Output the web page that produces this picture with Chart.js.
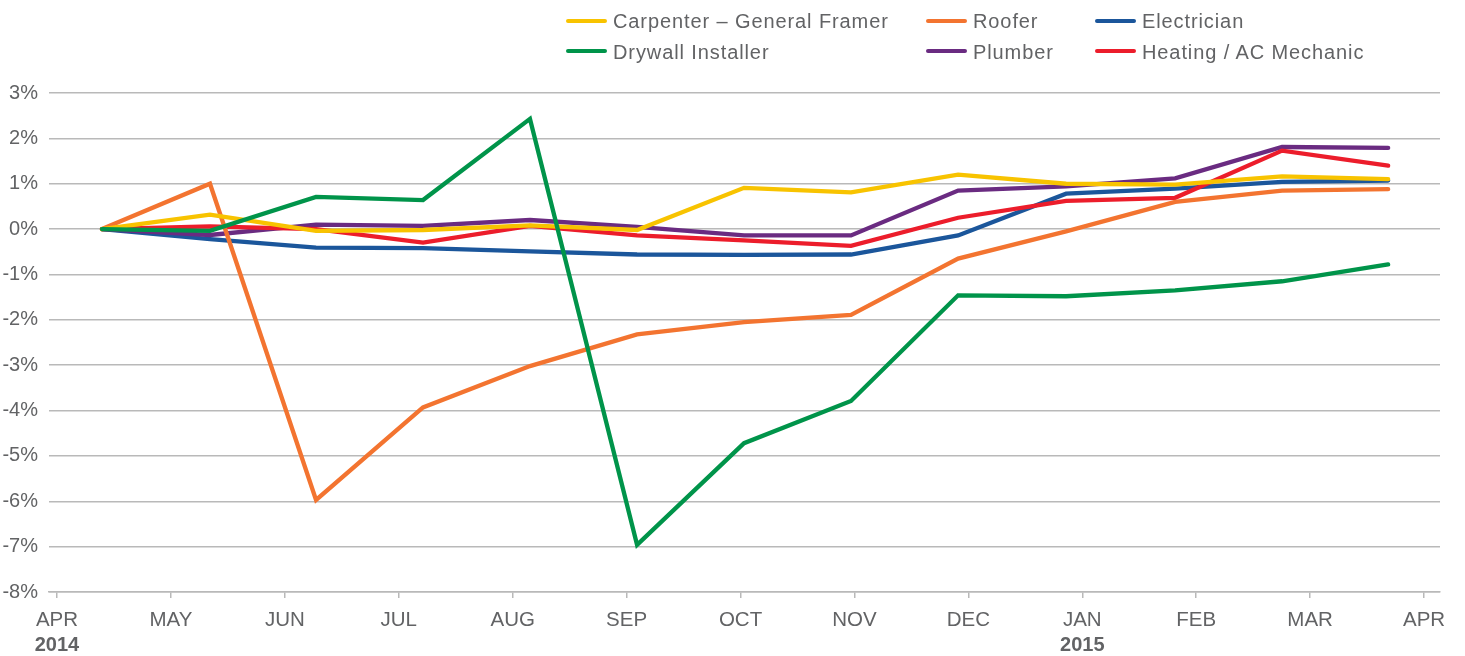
<!DOCTYPE html>
<html>
<head>
<meta charset="utf-8">
<script src="https://cdn.jsdelivr.net/npm/chart.js@4"></script>
<style>
  html, body { margin: 0; padding: 0; background: #fff; }
  #wrap { position: relative; width: 1465px; height: 656px; overflow: hidden; }
  canvas { position: absolute; left: 0; top: 0; }
  .lg-line { position: absolute; width: 41px; height: 4px; border-radius: 2px; }
  .lg-text { position: absolute; font-family: "Liberation Sans", Arial, sans-serif; font-size: 20px;
             line-height: 20px; letter-spacing: 0.9px; color: #626365; white-space: nowrap; }
</style>
</head>
<body>
<div id="wrap">
  <canvas id="c" width="1465" height="656"></canvas>
  <div id="legend"></div>
</div>
<script>
// ---- data ----
const monthLabels = ['APR','MAY','JUN','JUL','AUG','SEP','OCT','NOV','DEC','JAN','FEB','MAR','APR'];
const yearLabels = {0: '2014', 9: '2015'};
// sample dates, in months since the start of April 2014
const sampleMonths = [0.395, 1.343, 2.274, 3.213, 4.152, 5.092, 6.031, 6.97, 7.91, 8.858, 9.815, 10.754, 11.685];

const seriesNames = ['Carpenter – General Framer', 'Roofer', 'Electrician', 'Drywall Installer', 'Plumber', 'Heating / AC Mechanic'];
const carpenter   = [0, 0.32, -0.04, -0.02, 0.08, -0.02, 0.91, 0.81, 1.2, 1.0, 0.98, 1.16, 1.1];
const roofer      = [0, 1.0, -5.97, -3.93, -3.02, -2.32, -2.05, -1.89, -0.65, -0.05, 0.6, 0.85, 0.88];
const electrician = [0, -0.22, -0.41, -0.42, -0.49, -0.56, -0.57, -0.56, -0.14, 0.78, 0.89, 1.04, 1.07];
const drywall     = [0, -0.04, 0.71, 0.64, 2.43, -6.96, -4.72, -3.79, -1.46, -1.48, -1.35, -1.15, -0.78];
const plumber     = [0, -0.13, 0.1, 0.07, 0.2, 0.05, -0.14, -0.14, 0.85, 0.94, 1.12, 1.81, 1.79];
const heating     = [0, 0.06, 0.0, -0.3, 0.07, -0.14, -0.25, -0.37, 0.25, 0.62, 0.69, 1.73, 1.4];

const yTicks = [3, 2, 1, 0, -1, -2, -3, -4, -5, -6, -7, -8];

// ---- styles ----
const colors = {
  carpenter: '#F8C300', roofer: '#F37430', electrician: '#1B569B',
  drywall: '#00944A', plumber: '#6A2B81', heating: '#EC1D2B'
};
const FONT = '"Liberation Sans", Arial, sans-serif';
const TEXT = '#626365';
const GRID = '#b9b9b9';

function pts(vals) { return vals.map((v, i) => ({x: sampleMonths[i], y: v})); }
function ds(label, vals, color, order) {
  return { label, data: pts(vals), borderColor: color, backgroundColor: color, borderWidth: 4.3,
           pointRadius: 0, pointHoverRadius: 0, tension: 0, borderCapStyle: 'round',
           borderJoinStyle: 'miter', fill: false, order };
}

// ---- HTML legend ----
const legendItems = [
  {name: seriesNames[0], color: colors.carpenter,   x: 566,  row: 0},
  {name: seriesNames[1], color: colors.roofer,      x: 926,  row: 0},
  {name: seriesNames[2], color: colors.electrician, x: 1095, row: 0},
  {name: seriesNames[3], color: colors.drywall,     x: 566,  row: 1},
  {name: seriesNames[4], color: colors.plumber,     x: 926,  row: 1},
  {name: seriesNames[5], color: colors.heating,     x: 1095, row: 1}
];
const legendEl = document.getElementById('legend');
legendItems.forEach(it => {
  const lineY = it.row === 0 ? 18.5 : 49.3;
  const textY = it.row === 0 ? 11 : 41.6;
  const l = document.createElement('div');
  l.className = 'lg-line';
  l.style.left = it.x + 'px'; l.style.top = lineY + 'px'; l.style.background = it.color;
  const t = document.createElement('div');
  t.className = 'lg-text';
  t.style.left = (it.x + 47) + 'px'; t.style.top = textY + 'px';
  t.textContent = it.name;
  legendEl.appendChild(l); legendEl.appendChild(t);
});

// ---- year labels plugin ----
const yearPlugin = {
  id: 'yearLabels',
  afterDraw(chart) {
    const ctx = chart.ctx, xs = chart.scales.x;
    ctx.save();
    ctx.font = 'bold 20px ' + FONT;
    ctx.fillStyle = TEXT;
    ctx.textAlign = 'center';
    ctx.textBaseline = 'middle';
    Object.keys(yearLabels).forEach(k => {
      ctx.fillText(yearLabels[k], xs.getPixelForValue(Number(k)), 645.5);
    });
    ctx.restore();
  }
};

new Chart(document.getElementById('c'), {
  type: 'line',
  data: {
    datasets: [
      ds(seriesNames[0], carpenter, colors.carpenter, 1),
      ds(seriesNames[1], roofer, colors.roofer, 2),
      ds(seriesNames[2], electrician, colors.electrician, 5),
      ds(seriesNames[3], drywall, colors.drywall, 0),
      ds(seriesNames[4], plumber, colors.plumber, 4),
      ds(seriesNames[5], heating, colors.heating, 3)
    ]
  },
  options: {
    responsive: false,
    animation: false,
    events: [],
    layout: { padding: { top: 93, right: 25, left: 0, bottom: 0 } },
    plugins: { legend: { display: false }, tooltip: { enabled: false } },
    scales: {
      x: {
        type: 'linear',
        min: -0.07, max: 12.14,
        afterBuildTicks(scale) { scale.ticks = monthLabels.map((_, i) => ({value: i})); },
        afterFit(scale) { scale.height = 64; },
        ticks: {
          autoSkip: false, maxRotation: 0, padding: 10,
          font: { family: FONT, size: 20.5 }, color: TEXT,
          callback: (v) => monthLabels[v]
        },
        grid: { drawOnChartArea: false, drawTicks: true, tickLength: 6, color: GRID, lineWidth: 1.5 },
        border: { display: true, color: GRID, width: 1.5 }
      },
      y: {
        min: -8, max: 3,
        afterBuildTicks(scale) { scale.ticks = yTicks.map(v => ({value: v})); },
        afterFit(scale) { scale.width = 49; },
        ticks: {
          padding: 11,
          font: { family: FONT, size: 20 }, color: TEXT,
          callback: (v) => v + '%'
        },
        grid: { drawTicks: false, color: GRID, lineWidth: 1.5 },
        border: { display: false }
      }
    }
  },
  plugins: [yearPlugin]
});
</script>
</body>
</html>
